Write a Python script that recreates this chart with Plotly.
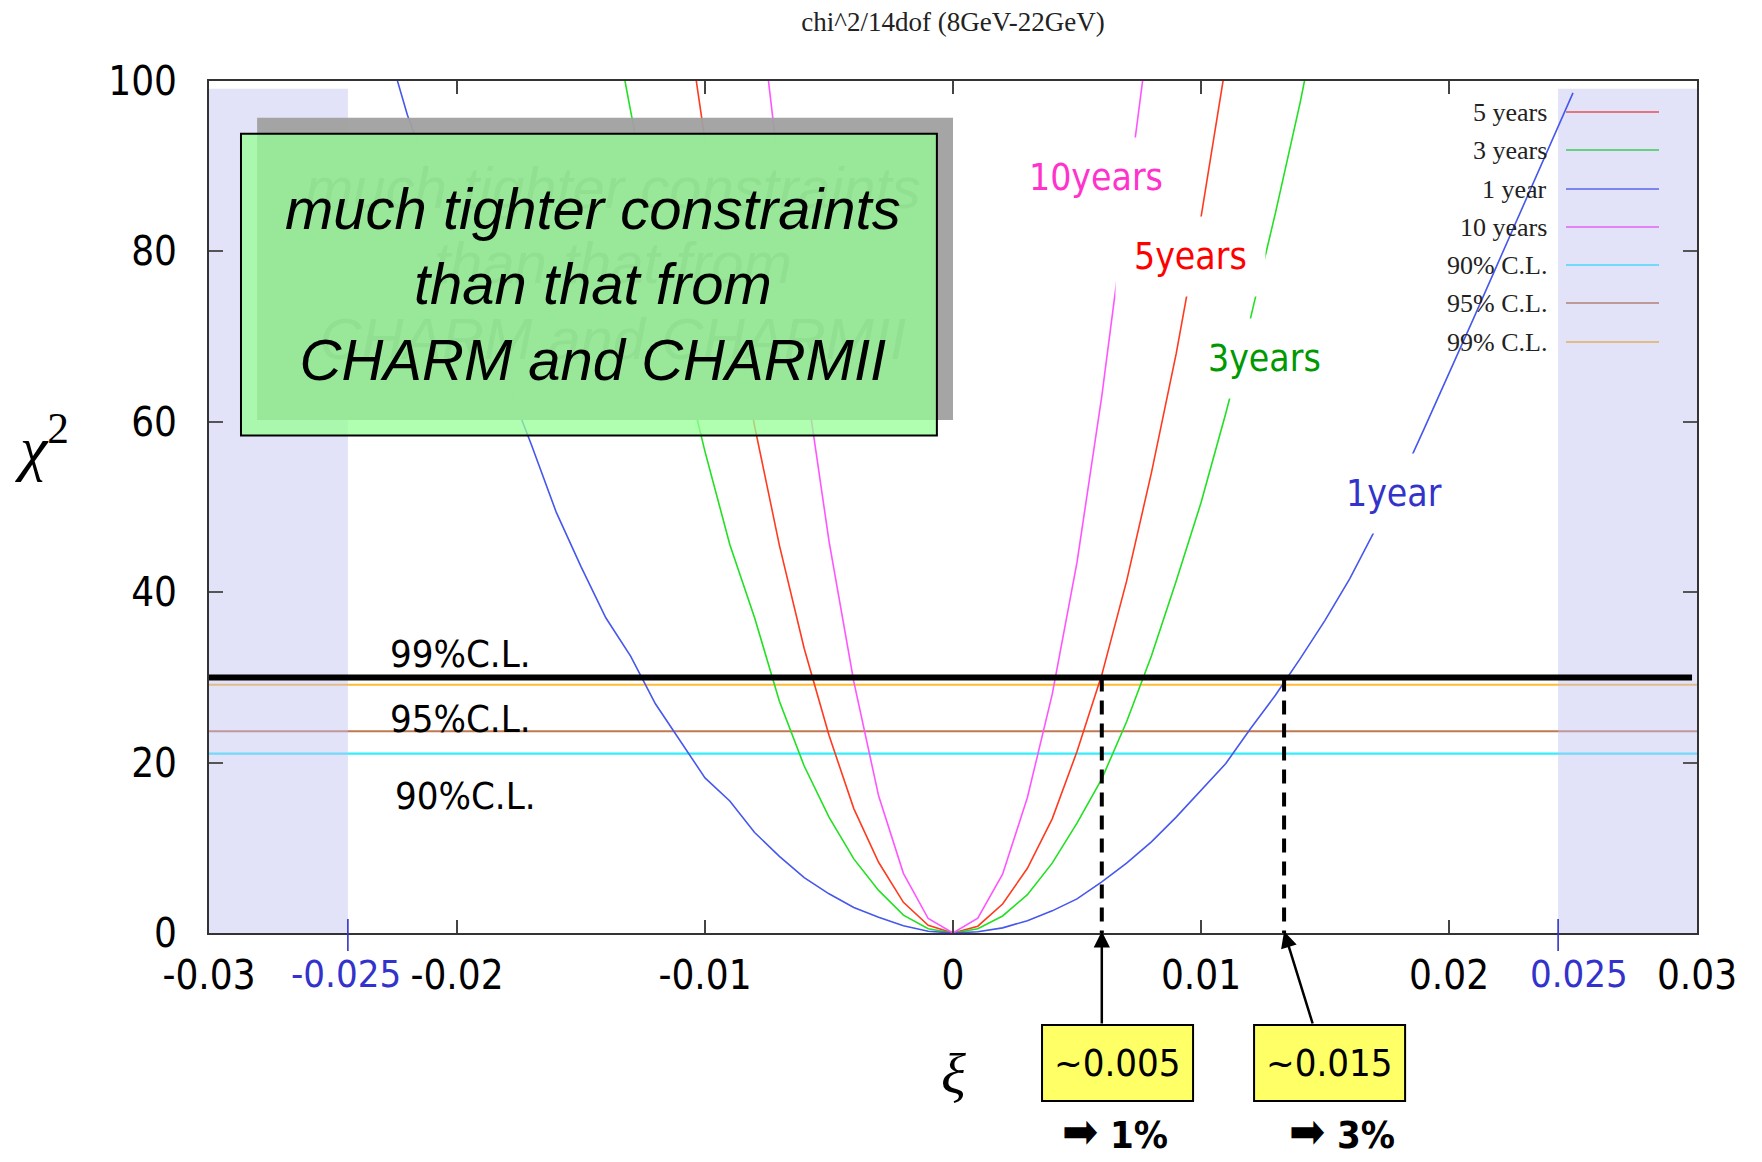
import plotly.graph_objects as go

# ---------------- data ----------------
xi_1yr = [-0.023, -0.022, -0.021, -0.020, -0.019, -0.018, -0.017, -0.016, -0.015, -0.014,
          -0.013, -0.012, -0.011, -0.010, -0.009, -0.008, -0.007, -0.006, -0.005, -0.004,
          -0.003, -0.002, -0.001, 0.0, 0.001, 0.002, 0.003, 0.004, 0.005, 0.006, 0.007,
          0.008, 0.009, 0.010, 0.011, 0.012, 0.013, 0.014, 0.015, 0.016, 0.017, 0.018,
          0.019, 0.020, 0.021, 0.022, 0.023, 0.024, 0.025]
chi2_1yr = [106, 96, 88, 80.5, 72.4, 64.8, 57.3, 49.4, 43.0, 37.0,
            32.5, 26.9, 22.6, 18.2, 15.5, 11.8, 9.0, 6.5, 4.6, 3.0,
            1.85, 0.85, 0.2, 0.0, 0.15, 0.6, 1.45, 2.6, 4.0, 6.0, 8.2,
            10.7, 13.6, 16.8, 19.9, 24.0, 27.9, 32.2, 36.7, 41.6, 47.2, 52.8,
            59.2, 65.6, 72.2, 78.8, 85.4, 92.0, 98.6]

xi_3yr = [-0.014, -0.013, -0.012, -0.011, -0.010, -0.009, -0.008, -0.007, -0.006, -0.005,
          -0.004, -0.003, -0.002, -0.001, 0.0, 0.001, 0.002, 0.003, 0.004, 0.005, 0.006,
          0.007, 0.008, 0.009, 0.010, 0.011, 0.012, 0.013, 0.014, 0.015]
chi2_3yr = [112, 96.5, 81.8, 68.5, 56.5, 45.6, 37.0, 27.2, 19.6, 13.6,
            8.7, 5.0, 2.1, 0.5, 0.0, 0.5, 2.0, 4.5, 8.2, 12.9, 18.1,
            24.8, 32.5, 41.3, 50.5, 61.0, 72.2, 84.5, 97.5, 112]

xi_5yr = [-0.011, -0.010, -0.009, -0.008, -0.007, -0.006, -0.005, -0.004, -0.003, -0.002,
          -0.001, 0.0, 0.001, 0.002, 0.003, 0.004, 0.005, 0.006, 0.007, 0.008, 0.009,
          0.010, 0.011]
chi2_5yr = [113, 93, 75.5, 59.5, 45.5, 33.4, 23.2, 14.6, 8.3, 3.6,
            0.9, 0.0, 0.8, 3.4, 7.6, 13.4, 21.3, 30.3, 41.3, 54.0, 68.0,
            84.0, 102]

xi_10yr = [-0.008, -0.007, -0.006, -0.005, -0.004, -0.003, -0.002, -0.001, 0.0,
           0.001, 0.002, 0.003, 0.004, 0.005, 0.006, 0.007, 0.008]
chi2_10yr = [114, 89, 66, 46, 29.5, 16.1, 7.0, 1.7, 0.0,
             1.74, 6.9, 15.9, 28.0, 43.5, 63.0, 85.0, 108]

series_names = ["5 years", "3 years", "1 year", "10 years"]
series_colors = ["#ff3a1f", "#22e022", "#4657ec", "#ff55ff"]

cl_names = ["90% C.L.", "95% C.L.", "99% C.L."]
cl_values = [21.06, 23.68, 29.14]
cl_colors = ["#33eeff", "#c07850", "#ffbb33"]

cut_line = 30.0                      # thick black line
cross_points = [0.0060, 0.01335]     # xi where curves cross the thick line
shade_edge = 0.0244                  # start of the shaded side bands
shade_top = 99.1

x_ticks = [-0.03, -0.02, -0.01, 0.0, 0.01, 0.02, 0.03]
x_ticktext = ["-0.03", "-0.02", "-0.01", "0", "0.01", "0.02", "0.03"]
y_ticks = [0, 20, 40, 60, 80, 100]

NARROW = "DejaVu Sans Condensed, Liberation Sans, sans-serif"
SANS = "Liberation Sans, Arial, DejaVu Sans, sans-serif"
SERIF = "Liberation Serif, Times New Roman, DejaVu Serif, serif"

fig = go.Figure()

xs = [xi_5yr, xi_3yr, xi_1yr, xi_10yr]
ys = [chi2_5yr, chi2_3yr, chi2_1yr, chi2_10yr]
for name, col, x, y in zip(series_names, series_colors, xs, ys):
    fig.add_trace(go.Scatter(x=x, y=y, mode="lines", name=name,
                             line=dict(color=col, width=1.6),
                             showlegend=False, hoverinfo="skip"))

PLOT_L, PLOT_R, PLOT_T, PLOT_B = 209, 1697, 81, 933
def py(ypx):
    return (PLOT_B - ypx) / (PLOT_B - PLOT_T)
def px(xpx):
    return (xpx - PLOT_L) / (PLOT_R - PLOT_L)
def dy(ypx):
    return 100.0 * (PLOT_B - ypx) / (PLOT_B - PLOT_T)

shapes = []
# confidence level lines (below the shading)
for v, c in zip(cl_values, cl_colors):
    shapes.append(dict(type="line", xref="x", yref="y", x0=-0.03, x1=0.03, y0=v, y1=v,
                       line=dict(color=c, width=2.2), layer="below"))

# hand-made legend (text on the left, line on the right)
leg_labels = series_names + cl_names
leg_colors = series_colors + cl_colors
leg_y_px = [112, 150, 189, 227, 265, 303, 342]

annotations = []
for lab, col, ypx in zip(leg_labels, leg_colors, leg_y_px):
    shapes.append(dict(type="line", xref="paper", yref="paper", x0=px(1566), x1=px(1659),
                       y0=py(ypx), y1=py(ypx), line=dict(color=col, width=2), layer="below"))
    annotations.append(dict(xref="paper", yref="paper", x=px(1549), y=py(ypx), text=lab,
                            showarrow=False, xanchor="right", yanchor="middle",
                            font=dict(family=SERIF, size=26, color="#222")))

# shaded side bands
for x0, x1 in [(-0.03, -shade_edge), (shade_edge, 0.03)]:
    shapes.append(dict(type="rect", xref="x", yref="y", x0=x0, x1=x1, y0=0, y1=shade_top,
                       fillcolor="rgb(190,190,240)", opacity=0.45, line=dict(width=0),
                       layer="below"))

# thick black line
shapes.append(dict(type="line", xref="x", yref="y", x0=-0.03, x1=0.0298, y0=cut_line, y1=cut_line,
                   line=dict(color="black", width=6), layer="above"))
# dashed verticals
for xc in cross_points:
    shapes.append(dict(type="line", xref="x", yref="y", x0=xc, x1=xc, y0=cut_line, y1=0,
                       line=dict(color="black", width=4, dash="14px,9px"), layer="above"))
# blue ticks at +-0.025
for xc in [-shade_edge, shade_edge]:
    shapes.append(dict(type="line", xref="x", yref="paper", x0=xc, x1=xc, y0=py(919), y1=py(951),
                       line=dict(color="#3333cc", width=1.6), layer="above"))

# text box with shadow
shapes.append(dict(type="rect", xref="x", yref="y", x0=-0.02806, x1=0.0, y0=60.2, y1=95.7,
                   fillcolor="#a0a0a0", opacity=0.95, line=dict(width=0), layer="above"))
shapes.append(dict(type="rect", xref="x", yref="y", x0=-0.02871, x1=-0.00065, y0=58.4, y1=93.8,
                   fillcolor="rgb(150,255,150)", opacity=0.75, line=dict(width=0),
                   layer="above"))
shapes.append(dict(type="rect", xref="x", yref="y", x0=-0.02871, x1=-0.00065, y0=58.4, y1=93.8,
                   fillcolor="rgba(0,0,0,0)", line=dict(color="black", width=2), layer="above"))

# yellow value boxes
for x0, x1 in [(0.00359, 0.00968), (0.01214, 0.01823)]:
    shapes.append(dict(type="rect", xref="x", yref="paper", x0=x0, x1=x1, y0=py(1025), y1=py(1101),
                       fillcolor="#ffff66", line=dict(color="black", width=2), layer="above"))

# ---------------- annotations ----------------
box_lines = "much tighter constraints<br>than that from<br>CHARM and CHARMII"
annotations.append(dict(xref="x", yref="y", x=-0.01370, y=78.6, text=box_lines, showarrow=False,
                        xanchor="center", yanchor="middle",
                        font=dict(family=SANS, size=58, color="rgba(40,110,40,0.07)", style="italic")))
annotations.append(dict(xref="x", yref="y", x=-0.01450, y=76.2, text=box_lines, showarrow=False,
                        xanchor="center", yanchor="middle",
                        font=dict(family=SANS, size=58, color="black", style="italic")))

# curve labels with white backing
curve_labels = [("10years", 0.00577, 88.7, "#ff33cc"),
                ("5years", 0.00956, 79.4, "#ff0000"),
                ("3years", 0.01258, 67.4, "#009900"),
                ("1year", 0.01778, 51.6, "#3333cc")]
for t, x, y, c in curve_labels:
    annotations.append(dict(xref="x", yref="y", x=x, y=y, text=t, showarrow=False,
                            bgcolor="white", borderpad=18,
                            font=dict(family=NARROW, size=37, color=c)))

# C.L. labels
for t, y in [("99%C.L.", 32.7), ("95%C.L.", 25.1), ("90%C.L.", 16.1)]:
    annotations.append(dict(xref="x", yref="y", x=-0.0228 if t != "90%C.L." else -0.0226, y=y,
                            text=t, showarrow=False, xanchor="left", yanchor="middle",
                            font=dict(family=NARROW, size=38, color="black")))

# blue tick labels
for t, x in [("-0.025", -0.02446), ("0.025", 0.02524)]:
    annotations.append(dict(xref="x", yref="paper", x=x, y=py(974), text=t, showarrow=False,
                            xanchor="center", yanchor="middle",
                            font=dict(family=NARROW, size=38, color="#3333cc")))

# axis titles
annotations.append(dict(xref="paper", yref="y", x=px(42), y=57.5, text="<i>χ</i><sup>2</sup>",
                        showarrow=False, xanchor="center", yanchor="middle",
                        font=dict(family=SERIF, size=62, color="black")))
annotations.append(dict(xref="x", yref="paper", x=0.0, y=py(1073), text="<i>ξ</i>",
                        showarrow=False, xanchor="center", yanchor="middle",
                        font=dict(family=SERIF, size=58, color="black")))

# value boxes text
for t, x in [("~0.005", 0.006635), ("~0.015", 0.015185)]:
    annotations.append(dict(xref="x", yref="paper", x=x, y=py(1063), text=t, showarrow=False,
                            xanchor="center", yanchor="middle",
                            font=dict(family=NARROW, size=38, color="black")))

# arrows from boxes to axis
for head, tail in [(0.0060, 0.0060), (0.01335, 0.01452)]:
    annotations.append(dict(xref="x", yref="y", x=head, y=0.2, axref="x", ayref="y",
                            ax=tail, ay=dy(1025), text="", showarrow=True, arrowhead=2,
                            arrowsize=1.3, arrowwidth=2.5, arrowcolor="black", standoff=0))

# percentage notes
for t, x in [("1%", 0.00653), ("3%", 0.01569)]:
    annotations.append(dict(xref="x", yref="paper", x=x, y=py(1131),
                            text="<span style='font-size:48px'>➡</span><b> " + t + "</b>",
                            showarrow=False, xanchor="center", yanchor="middle",
                            font=dict(family=NARROW, size=38, color="black")))

fig.update_layout(
    width=1762, height=1162, autosize=False,
    margin=dict(l=PLOT_L, r=1762 - PLOT_R, t=PLOT_T, b=1162 - PLOT_B, pad=0),
    paper_bgcolor="white", plot_bgcolor="rgba(0,0,0,0)",
    title=dict(text="chi^2/14dof (8GeV-22GeV)", x=0.5, xref="paper", y=1 - 22 / 1162,
               yref="container", xanchor="center", yanchor="middle",
               font=dict(family=SERIF, size=27, color="#222")),
    xaxis=dict(range=[-0.03, 0.03], tickvals=x_ticks, ticktext=x_ticktext,
               ticks="inside", ticklen=13, tickwidth=1.5, tickcolor="#444",
               showline=True, linecolor="#333", linewidth=2, mirror="allticks",
               showgrid=False, zeroline=False, ticklabelstandoff=6,
               tickfont=dict(family=NARROW, size=40, color="black")),
    yaxis=dict(range=[0, 100], tickvals=y_ticks,
               ticks="inside", ticklen=14, tickwidth=1.5, tickcolor="#555",
               showline=True, linecolor="#333", linewidth=2, mirror="allticks",
               showgrid=False, zeroline=False, ticklabelstandoff=22,
               tickfont=dict(family=NARROW, size=40, color="black")),
    shapes=shapes, annotations=annotations, showlegend=False,
)

fig.write_html("out.html")
